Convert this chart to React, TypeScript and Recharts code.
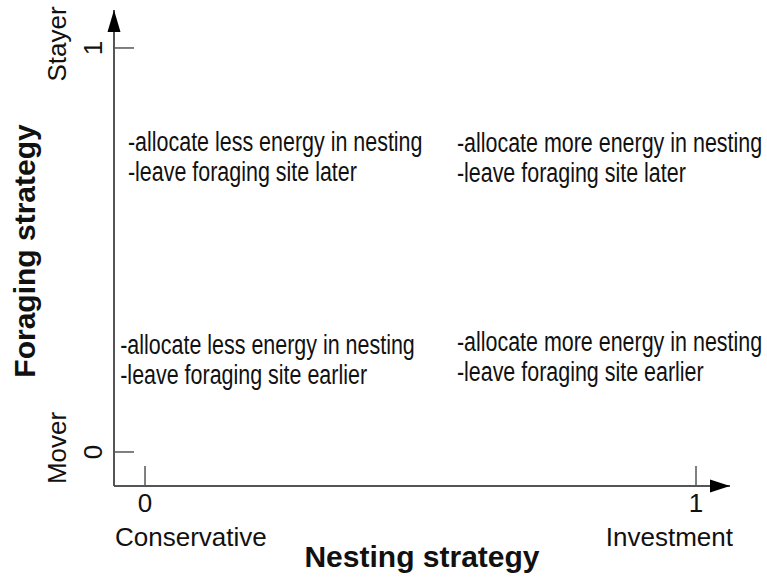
import React from 'react';
import { ScatterChart, Scatter, XAxis, YAxis, ReferenceDot } from 'recharts';

// axis ticks and their end names
const xTicks = [0, 1];
const xTickNames = ['Conservative', 'Investment'];
const yTicks = [0, 1];
const yTickNames = ['Mover', 'Stayer'];

// quadrant notes (anchor = start of first line)
const noteX = [-0.031, 0.566, -0.045, 0.566];
const noteY = [0.745, 0.743, 0.2426, 0.25];
const noteEnergy = [
  '-allocate less energy in nesting',
  '-allocate more energy in nesting',
  '-allocate less energy in nesting',
  '-allocate more energy in nesting',
];
const noteLeave = [
  '-leave foraging site later',
  '-leave foraging site later',
  '-leave foraging site earlier',
  '-leave foraging site earlier',
];

const xDomain = [-0.0563, 1.0617];
const yDomain = [-0.0842, 1.094];

const FONT = '"Liberation Sans", Arial, sans-serif';
const AXIS = '#555';
const INK = '#111';

const notes = noteX.map((x, i) => ({ x, y: noteY[i], a: noteEnergy[i], b: noteLeave[i] }));

const XTick = (props: any) => {
  const { x, y, payload, index } = props;
  const first = index === 0;
  return (
    <g>
      <line x1={x} x2={x} y1={y} y2={y - 20} stroke={AXIS} strokeWidth={1.5} />
      <text x={x} y={y + 17} dy="0.35em" textAnchor="middle" fontSize={26} fontFamily={FONT} fill={INK}>
        {payload.value}
      </text>
      <text
        x={first ? x - 30 : x + 37}
        y={y + 51}
        dy="0.35em"
        textAnchor={first ? 'start' : 'end'}
        fontSize={26}
        fontFamily={FONT}
        fill={INK}
      >
        {xTickNames[xTicks.indexOf(payload.value)]}
      </text>
    </g>
  );
};

const YTick = (props: any) => {
  const { x, y, payload } = props;
  const nx = x - 21;
  const mx = x - 57;
  const my = y - 4;
  return (
    <g>
      <line x1={x} x2={x + 20} y1={y} y2={y} stroke={AXIS} strokeWidth={1.5} />
      <text
        x={nx}
        y={y}
        dy="0.35em"
        textAnchor="middle"
        transform={`rotate(-90, ${nx}, ${y})`}
        fontSize={26}
        fontFamily={FONT}
        fill={INK}
      >
        {payload.value}
      </text>
      <text
        x={mx}
        y={my}
        dy="0.35em"
        textAnchor="middle"
        transform={`rotate(-90, ${mx}, ${my})`}
        fontSize={26}
        fontFamily={FONT}
        fill={INK}
      >
        {yTickNames[yTicks.indexOf(payload.value)]}
      </text>
    </g>
  );
};

const Note = (props: any) => {
  const { cx, cy, payload } = props;
  return (
    <g transform={`translate(${cx},${cy}) scale(0.795,1)`}>
      <text x={0} y={0} fontSize={27} fontFamily={FONT} fill={INK}>{payload.a}</text>
      <text x={0} y={30} fontSize={27} fontFamily={FONT} fill={INK}>{payload.b}</text>
    </g>
  );
};

const XTitle = (props: any) => {
  const { viewBox } = props;
  const cx = viewBox.x + viewBox.width / 2;
  return (
    <text x={cx} y={viewBox.y + 70} dy="0.35em" textAnchor="middle" fontSize={30} fontWeight="bold" fontFamily={FONT} fill={INK}>
      Nesting strategy
    </text>
  );
};

const YTitle = (props: any) => {
  const { viewBox } = props;
  const cx = 24;
  const cy = viewBox.y + viewBox.height / 2 + 3;
  return (
    <text
      x={cx}
      y={cy}
      dy="0.35em"
      textAnchor="middle"
      transform={`rotate(-90, ${cx}, ${cy})`}
      fontSize={30}
      fontWeight="bold"
      fontFamily={FONT}
      fill={INK}
    >
      Foraging strategy
    </text>
  );
};

const ArrowRight = (props: any) => {
  const { cx, cy } = props;
  return <polygon points={`${cx},${cy} ${cx - 20},${cy - 6.5} ${cx - 20},${cy + 6.5}`} fill="#000" />;
};

const ArrowUp = (props: any) => {
  const { cx, cy } = props;
  return <polygon points={`${cx},${cy} ${cx - 6.5},${cy + 22} ${cx + 6.5},${cy + 22}`} fill="#000" />;
};

export default function App() {
  return (
    <div style={{ position: 'absolute', left: 0, top: 0, width: 767, height: 581, background: '#fff' }}>
      <ScatterChart width={767} height={581} margin={{ top: 10, right: 37, left: 34, bottom: 0 }}>
        <XAxis
          type="number"
          dataKey="x"
          domain={xDomain}
          ticks={xTicks}
          height={95}
          tickSize={0}
          tickMargin={0}
          tickLine={false}
          axisLine={{ stroke: AXIS, strokeWidth: 2 }}
          tick={<XTick />}
          label={<XTitle />}
        />
        <YAxis
          type="number"
          dataKey="y"
          domain={yDomain}
          ticks={yTicks}
          width={80}
          tickSize={0}
          tickMargin={0}
          tickLine={false}
          axisLine={{ stroke: AXIS, strokeWidth: 2 }}
          tick={<YTick />}
          label={<YTitle />}
        />
        <Scatter data={notes} shape={<Note />} isAnimationActive={false} />
        <ReferenceDot x={xDomain[1]} y={yDomain[0]} ifOverflow="visible" shape={<ArrowRight />} />
        <ReferenceDot x={xDomain[0]} y={yDomain[1]} ifOverflow="visible" shape={<ArrowUp />} />
      </ScatterChart>
    </div>
  );
}
